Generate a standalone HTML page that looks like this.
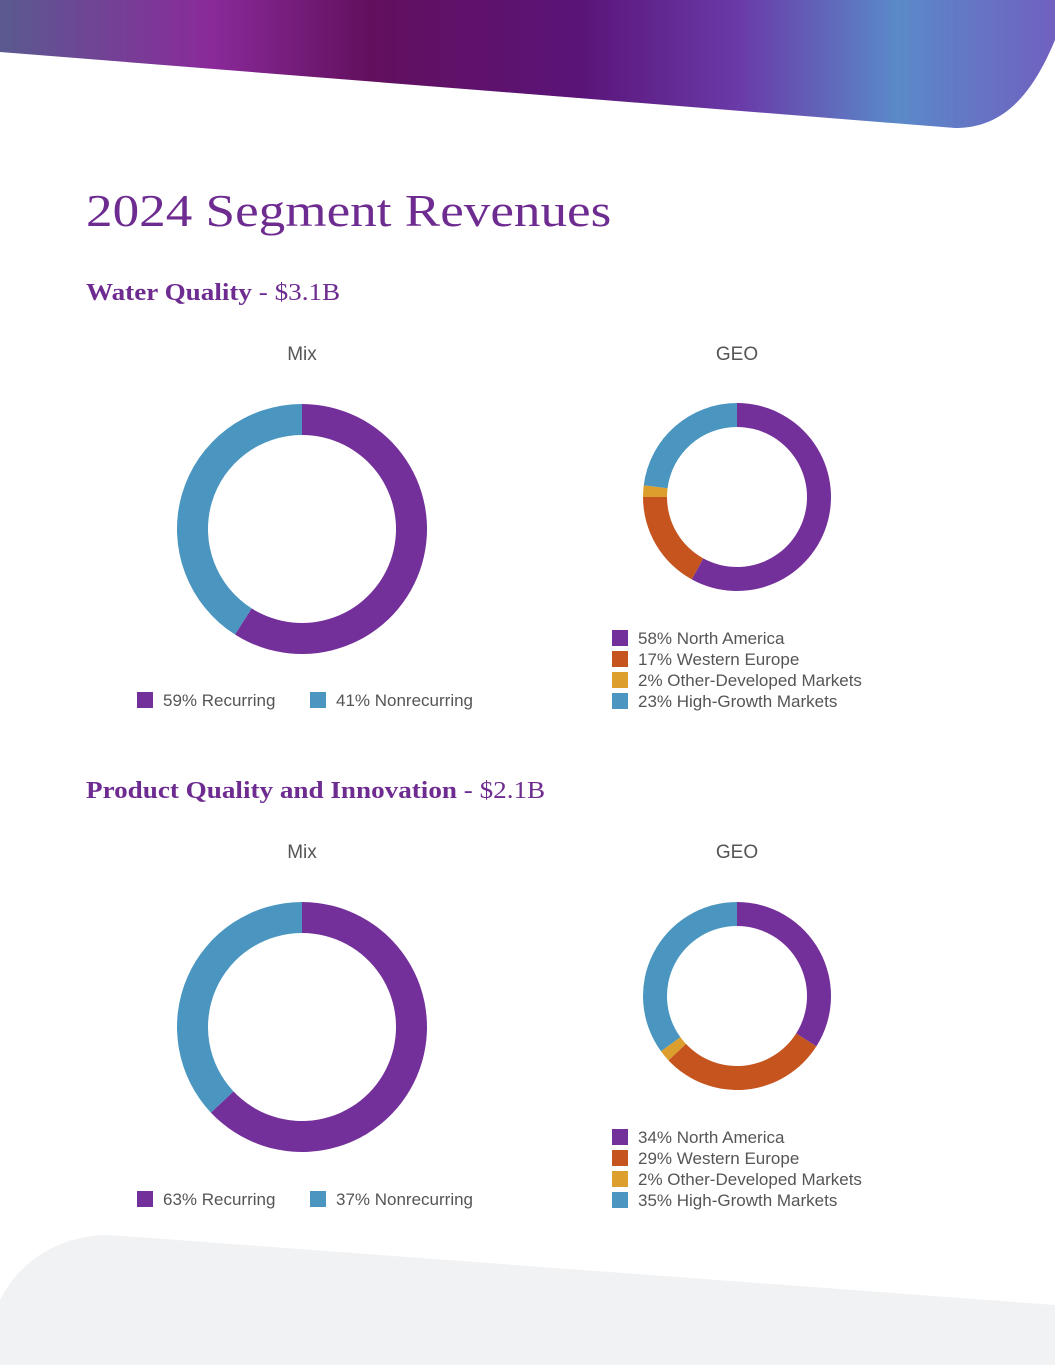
<!DOCTYPE html>
<html><head><meta charset="utf-8"><style>
body{margin:0;width:1055px;height:1365px;position:relative;background:#fff;overflow:hidden;font-family:"Liberation Sans",sans-serif}
.abs{position:absolute}
h1{position:absolute;left:86px;top:184px;margin:0;font:46px "Liberation Serif",serif;color:#6e2c91;font-weight:normal;transform:scaleX(1.155);transform-origin:left top;white-space:nowrap}
h2{position:absolute;left:86px;margin:0;font:bold 24px "Liberation Serif",serif;color:#6e2c91;transform:scaleX(1.13);transform-origin:left top;white-space:nowrap}
h2 span{font-weight:normal}
.ct{position:absolute;font-size:19px;color:#555;width:200px;text-align:center}
.lg{position:absolute;font-size:17px;color:#555;line-height:21px;white-space:nowrap}
.sw{display:inline-block;width:16px;height:16px;vertical-align:-2px;margin-right:10px}
</style></head><body>
<svg class="abs" style="left:0;top:0" width="1055" height="1365">
<defs><linearGradient id="g" x1="0" x2="1" y1="0" y2="0">
<stop offset="0" stop-color="#5a5a90"/><stop offset="0.2" stop-color="#8a2a9a"/><stop offset="0.35" stop-color="#62105e"/><stop offset="0.55" stop-color="#5a1478"/><stop offset="0.7" stop-color="#6a3aa8"/><stop offset="0.85" stop-color="#5a8ac8"/><stop offset="1" stop-color="#7060c0"/></linearGradient></defs>
<path d="M0,0 H1055 V40 C1030,100 1000,128 955,128 L0,52 Z" fill="url(#g)"/>
<path d="M0,1365 V1300 C20,1260 60,1235 110,1235 L1055,1305 V1365 Z" fill="#f1f2f4"/>
<g id="charts"></g>
</svg>
<h1>2024 Segment Revenues</h1>
<h2 style="top:280px">Water Quality <span>- $3.1B</span></h2>
<h2 style="top:778px">Product Quality and Innovation <span>- $2.1B</span></h2>
<div class="ct" style="left:202px;top:344px">Mix</div>
<div class="ct" style="left:637px;top:344px">GEO</div>
<div class="ct" style="left:202px;top:842px">Mix</div>
<div class="ct" style="left:637px;top:842px">GEO</div>
<div id="legends"></div>
<script>
const colors=['#74309a','#c5541f','#dc9e2c','#4a96c0'];
const mixLabels=['Recurring','Nonrecurring'];
const mix1=[59,41];
const mix2=[63,37];
const geoLabels=['North America','Western Europe','Other-Developed Markets','High-Growth Markets'];
const geo1=[58,17,2,23];
const geo2=[34,29,2,35];
const NS='http://www.w3.org/2000/svg';
const g=document.getElementById('charts');
function donut(vals,cols,cx,cy,ro,ri,name){
  const tot=vals.reduce((a,b)=>a+b,0);let a0=0;
  vals.forEach((v,i)=>{
    const a1=a0+v/tot*2*Math.PI;
    const p=(r,a)=>[cx+r*Math.sin(a),cy-r*Math.cos(a)];
    const [x1,y1]=p(ro,a0),[x2,y2]=p(ro,a1),[x3,y3]=p(ri,a1),[x4,y4]=p(ri,a0);
    const l=(a1-a0)>Math.PI?1:0;
    const path=document.createElementNS(NS,'path');
    path.setAttribute('d',`M${x1},${y1}A${ro},${ro} 0 ${l} 1 ${x2},${y2}L${x3},${y3}A${ri},${ri} 0 ${l} 0 ${x4},${y4}Z`);
    path.setAttribute('fill',cols[i]);
    
    
    g.appendChild(path);a0=a1;
  });
}
donut(mix1,[colors[0],colors[3]],302,529,125,94,'mix1');
donut(geo1,colors,737,497,94,70,'geo1');
donut(mix2,[colors[0],colors[3]],302,1027,125,94,'mix2');
donut(geo2,colors,737,996,94,70,'geo2');
const L=document.getElementById('legends');
function mixLegend(vals,top){
  [137,310].forEach((x,i)=>{
    const d=document.createElement('div');d.className='lg';
    d.style.left=x+'px';d.style.top=top+'px';
    
    
    d.innerHTML=`<span class="sw" style="background:${[colors[0],colors[3]][i]}"></span>${vals[i]}% ${mixLabels[i]}`;
    L.appendChild(d);
  });
}
function geoLegend(vals,top){
  vals.forEach((v,i)=>{
    const d=document.createElement('div');d.className='lg';
    d.style.left='612px';d.style.top=(top+i*21)+'px';
    
    
    d.innerHTML=`<span class="sw" style="background:${colors[i]}"></span>${v}% ${geoLabels[i]}`;
    L.appendChild(d);
  });
}
mixLegend(mix1,690);geoLegend(geo1,628);
mixLegend(mix2,1189);geoLegend(geo2,1127);
</script>
</body></html>
